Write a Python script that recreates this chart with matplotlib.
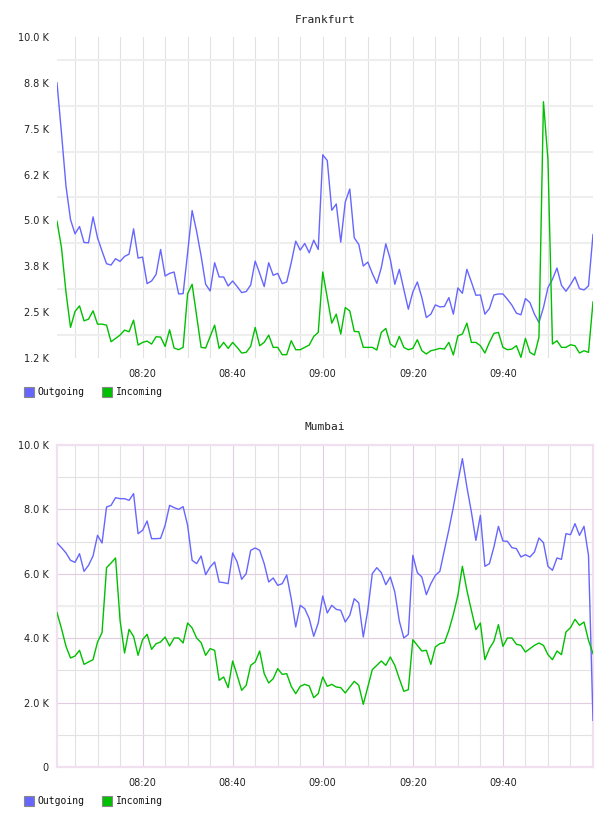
# traffic per minute for two sites, Frankfurt and Mumbai
import matplotlib
matplotlib.use('Agg')
from matplotlib import pyplot as plt
from matplotlib.patches import Rectangle
import numpy as np

# minutes after 08:00, one sample per minute
minutes = np.arange(1, 121)

frankfurt_out = [
    8750, 7376, 5928, 5024, 4634, 4834, 4399, 4390, 5096, 4526,
    4164, 3820, 3784, 3956, 3883, 4019, 4082, 4770, 3974, 4001,
    3277, 3349, 3530, 4209, 3485, 3557, 3593, 2996, 3005, 4119,
    5268, 4700, 4028, 3259, 3078, 3847, 3458, 3458, 3214, 3349,
    3196, 3033, 3060, 3241, 3892, 3557, 3196, 3847, 3503, 3557,
    3277, 3322, 3847, 4435, 4191, 4372, 4119, 4462, 4209, 6788,
    6634, 5277, 5449, 4408, 5503, 5856, 4526, 4345, 3757, 3865,
    3557, 3286, 3711, 4363, 3938, 3259, 3666, 3120, 2580, 3051,
    3322, 2897, 2354, 2445, 2698, 2643, 2653, 2897, 2445, 3160,
    3015, 3666, 3322, 2960, 2969, 2445, 2598, 2969, 2996, 2996,
    2852, 2689, 2472, 2427, 2870, 2761, 2445, 2219, 2626, 3169,
    3395, 3702, 3232, 3069, 3250, 3458, 3141, 3105, 3214, 4616,
]
frankfurt_in = [
    4978, 4254, 3033, 2083, 2517, 2671, 2263, 2309, 2535, 2173,
    2173, 2146, 1693, 1784, 1874, 2010, 1965, 2282, 1603, 1675,
    1711, 1630, 1829, 1820, 1567, 2019, 1521, 1476, 1540, 3006,
    3259, 2399, 1540, 1521, 1838, 2146, 1512, 1675, 1512, 1675,
    1540, 1386, 1404, 1567, 2083, 1585, 1675, 1874, 1540, 1540,
    1340, 1340, 1721, 1476, 1476, 1540, 1603, 1838, 1947, 3594,
    2897, 2200, 2444, 1902, 2625, 2535, 1974, 1965, 1540, 1540,
    1540, 1467, 1947, 2055, 1630, 1540, 1838, 1540, 1476, 1512,
    1748, 1449, 1359, 1449, 1476, 1512, 1494, 1675, 1331, 1856,
    1902, 2200, 1675, 1675, 1585, 1386, 1675, 1920, 1947, 1540,
    1476, 1494, 1585, 1268, 1784, 1404, 1331, 1811, 8236, 6652,
    1630, 1721, 1540, 1540, 1612, 1585, 1386, 1449, 1404, 2779,
]
mumbai_out = [
    6957, 6812, 6646, 6418, 6356, 6625, 6077, 6263, 6553, 7195,
    6957, 8075, 8126, 8364, 8333, 8333, 8282, 8489, 7246, 7350,
    7640, 7091, 7091, 7101, 7505, 8126, 8054, 8002, 8085, 7505,
    6418, 6315, 6553, 5973, 6211, 6366, 5745, 5725, 5694, 6646,
    6366, 5828, 6004, 6729, 6801, 6729, 6315, 5745, 5870, 5642,
    5694, 5963, 5228, 4348, 5021, 4917, 4607, 4058, 4472, 5311,
    4783, 5021, 4897, 4865, 4503, 4710, 5228, 5093, 4037, 4865,
    6004, 6190, 6035, 5663, 5901, 5435, 4534, 4006, 4120, 6574,
    6035, 5901, 5352, 5694, 5952, 6077, 6729, 7371, 8075, 8851,
    9576, 8696, 7919, 7039, 7816, 6232, 6315, 6832, 7474, 7019,
    7008, 6812, 6781, 6522, 6594, 6522, 6677, 7112, 6967, 6232,
    6108, 6491, 6449, 7246, 7215, 7557, 7195, 7474, 6574, 1449,
]
mumbai_in = [
    4793, 4296, 3747, 3385, 3447, 3623, 3188, 3261, 3333, 3882,
    4172, 6190, 6335, 6491, 4555, 3540, 4275, 4058, 3468, 3954,
    4120, 3654, 3830, 3882, 4037, 3758, 4006, 4006, 3851, 4472,
    4317, 4006, 3861, 3468, 3675, 3623, 2692, 2795, 2464, 3292,
    2847, 2381, 2536, 3157, 3261, 3602, 2899, 2609, 2743, 3054,
    2878, 2899, 2505, 2277, 2505, 2567, 2515, 2153, 2277, 2795,
    2505, 2567, 2484, 2464, 2298, 2484, 2660, 2536, 1946, 2484,
    3023, 3157, 3292, 3157, 3416, 3157, 2743, 2350, 2402, 3954,
    3778, 3602, 3623, 3188, 3727, 3830, 3861, 4244, 4741, 5331,
    6232, 5487, 4865, 4265, 4472, 3333, 3675, 3903, 4420, 3747,
    4006, 4006, 3810, 3778, 3571, 3675, 3778, 3851, 3778, 3489,
    3333, 3602, 3489, 4193, 4327, 4586, 4400, 4503, 3934, 3520,
]

time_ticks = [20, 40, 60, 80, 100]
time_labels = ['08:20', '08:40', '09:00', '09:20', '09:40']

top_ticks = [1250, 2500, 3750, 5000, 6250, 7500, 8750, 10000]
top_labels = ['1.2 K', '2.5 K', '3.8 K', '5.0 K', '6.2 K', '7.5 K', '8.8 K', '10.0 K']
bot_ticks = [0, 2000, 4000, 6000, 8000, 10000]
bot_labels = ['0', '2.0 K', '4.0 K', '6.0 K', '8.0 K', '10.0 K']

c_out = '#6666ff'
c_in = '#00c000'
mono = 'DejaVu Sans Mono'

fig = plt.figure(figsize=(6.08, 8.16), dpi=100)
W, H = 608.0, 816.0

def axes_px(left, top, right, bottom):
    return fig.add_axes([left / W, 1 - bottom / H, (right - left) / W, (bottom - top) / H])

ax1 = axes_px(57, 37, 593, 358)
ax2 = axes_px(57, 445, 593, 767)

for ax in (ax1, ax2):
    ax.set_xlim(minutes[0], minutes[-1])
    ax.set_xticks(time_ticks)
    ax.set_xticklabels(time_labels)
    ax.set_xticks(np.arange(5, 120, 5), minor=True)
    ax.tick_params(which='both', length=0, labelsize=7, colors='#222222')
    ax.tick_params(axis='x', pad=8)
    ax.tick_params(axis='y', pad=6)
    ax.set_axisbelow(True)

# --- Frankfurt ---
ax1.plot(minutes, frankfurt_out, color=c_out, lw=1.0, zorder=3)
ax1.plot(minutes, frankfurt_in, color=c_in, lw=1.0, zorder=3)
ax1.set_ylim(1250, 10000)
ax1.set_yticks(top_ticks)
ax1.set_yticklabels(top_labels)
ax1.set_yticks([1875, 3125, 4375, 5625, 6875, 8125, 9375], minor=True)
ax1.grid(True, which='both', axis='x', color='#e2e2e2', lw=0.8)
ax1.grid(True, which='minor', axis='y', color='#eeeeee', lw=1.5)
ax1.grid(False, which='major', axis='y')
for s in ax1.spines.values():
    s.set_visible(False)
ax1.set_title('Frankfurt', fontsize=8, family=mono, pad=10, color='#222222')

# --- Mumbai ---
ax2.plot(minutes, mumbai_out, color=c_out, lw=1.0, zorder=3)
ax2.plot(minutes, mumbai_in, color=c_in, lw=1.0, zorder=3)
ax2.set_ylim(0, 10000)
ax2.set_yticks(bot_ticks)
ax2.set_yticklabels(bot_labels)
ax2.set_yticks([1000, 3000, 5000, 7000, 9000], minor=True)
ax2.grid(True, which='major', color='#e2cce2', lw=0.8)
ax2.grid(True, which='minor', color='#e2e2e2', lw=0.8)
ax2.axhline(5000, color='#eeeeee', lw=1.5, zorder=1)
for s in ax2.spines.values():
    s.set_color('#f0e0f0')
    s.set_linewidth(1.6)
ax2.set_title('Mumbai', fontsize=8, family=mono, pad=11, color='#222222')

# legends drawn by hand below each chart
def legend_at(ytop):
    for x0, name, col in ((24, 'Outgoing', c_out), (102, 'Incoming', c_in)):
        fig.add_artist(Rectangle((x0 / W, 1 - (ytop + 10) / H), 10 / W, 10 / H,
                                 facecolor=col, edgecolor='#888888', lw=0.8,
                                 transform=fig.transFigure))
        fig.text((x0 + 14) / W, 1 - (ytop + 5.5) / H, name, fontsize=7,
                 family=mono, va='center', ha='left', color='#111111')

legend_at(387)
legend_at(796)

fig.savefig('out.png', dpi=100)
